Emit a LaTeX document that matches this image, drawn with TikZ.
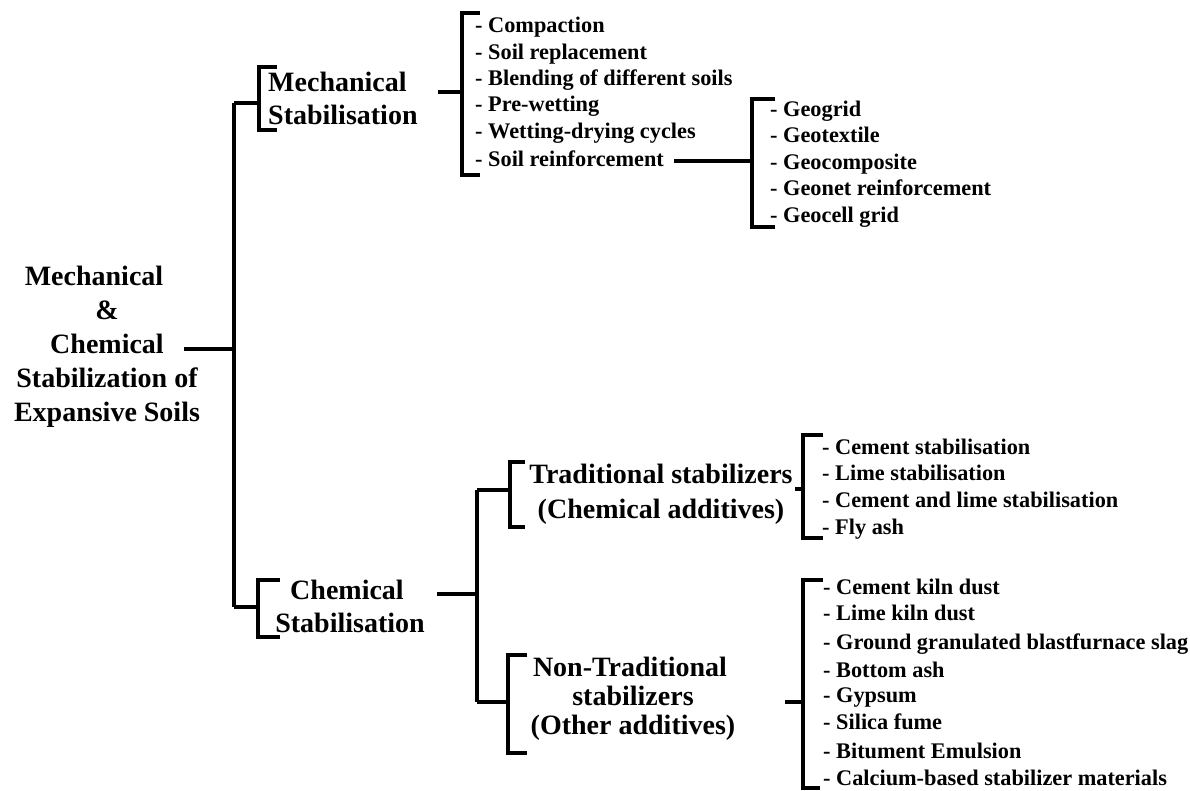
\documentclass[tikz,border=0pt]{standalone}
\usepackage{fontspec}
\setmainfont{Liberation Serif}
\usetikzlibrary{positioning}

\tikzset{
  head/.style={align=center, inner sep=0pt, font=\bfseries\fontsize{28}{33}\selectfont},
  item/.style={anchor=base west, inner sep=0pt, font=\bfseries\fontsize{22.3}{26}\selectfont},
  bar/.style={line width=3.5pt, black},
}

\begin{document}
\begin{tikzpicture}[x=1pt, y=-1pt]
			\useasboundingbox (0,0) rectangle (1190,790);
			% Root
			\node[head, font=\bfseries\fontsize{28}{34}\selectfont] (root) at (107,347) {Mechanical\hspace*{26pt}\\\&\hspace*{10pt}\\Chemical\hspace*{24pt}\\Stabilization of\\Expansive Soils};
			
			% Main branches
			\node[head, align=left, anchor=west] (mech) at (268,98.5) {Mechanical\\Stabilisation};
			\node[head] (chem) at (350,606.5) {Chemical\hspace*{6pt}\\Stabilisation};
			\node[head, font=\bfseries\fontsize{28}{35}\selectfont] (trad) at (661,494.5) {Traditional stabilizers\\(Chemical additives)};
			\node[head, font=\bfseries\fontsize{28}{29}\selectfont] (nontrad) at (633,699) {Non-Traditional\hspace*{6pt}\\stabilizers\\(Other additives)};
			
			% Mechanical items
			\node[item] (m1) at (475,32) {- Compaction};
			\node[item] (m2) at (475,59) {- Soil replacement};
			\node[item] (m3) at (475,85) {- Blending of different soils};
			\node[item] (m4) at (475,111) {- Pre-wetting};
			\node[item] (m5) at (475,138) {- Wetting-drying cycles};
			\node[item] (m6) at (475,166) {- Soil reinforcement};
			
			% Reinforcement items
			\node[item] (g1) at (770,116) {- Geogrid};
			\node[item] (g2) at (770,142) {- Geotextile};
			\node[item] (g3) at (770,169) {- Geocomposite};
			\node[item] (g4) at (770,195) {- Geonet reinforcement};
			\node[item] (g5) at (770,222) {- Geocell grid};
			
			% Traditional items
			\node[item] (t1) at (822,454) {- Cement stabilisation};
			\node[item] (t2) at (822,480) {- Lime stabilisation};
			\node[item] (t3) at (822,507) {- Cement and lime stabilisation};
			\node[item] (t4) at (822,534) {- Fly ash};
			
			% Non-traditional items
			\node[item] (n1) at (823,594) {- Cement kiln dust};
			\node[item] (n2) at (823,620) {- Lime kiln dust};
			\node[item] (n3) at (823,649) {- Ground granulated blastfurnace slag};
			\node[item] (n4) at (823,677) {- Bottom ash};
			\node[item] (n5) at (823,702) {- Gypsum};
			\node[item] (n6) at (823,729) {- Silica fume};
			\node[item] (n7) at (823,758) {- Bitument Emulsion};
			\node[item] (n8) at (823,785) {- Calcium-based stabilizer materials};
			
			% Junctions
			\coordinate (rootR) at (184,349);
			\coordinate (rootJ) at (234,349);
			\coordinate (mechJ) at (234,103);
			\coordinate (chemJ) at (234,607);
			\coordinate (mechR) at (438,92);
			\coordinate (mlistJ) at (462,92);
			\coordinate (glistJ) at (752,161);
			\coordinate (chemR) at (437,594);
			\coordinate (chemK) at (477,594);
			\coordinate (tradJ) at (477,490);
			\coordinate (nontradJ) at (477,702);
			\coordinate (tradR) at (795,489);
			\coordinate (tlistJ) at (803,489);
			\coordinate (nontradR) at (785,702);
			\coordinate (nlistJ) at (803,702);
			
			% Brackets
			\draw[bar] (277,67) -- (259,67) -- (259,130) -- (277,130);
			\draw[bar] (480,13) -- (462,13) -- (462,175) -- (480,175);
			\draw[bar] (775,99) -- (752,99) -- (752,227) -- (775,227);
			\draw[bar] (280,580) -- (258,580) -- (258,637) -- (280,637);
			\draw[bar] (525,462) -- (510,462) -- (510,527) -- (525,527);
			\draw[bar] (823,435) -- (803,435) -- (803,538) -- (823,538);
			\draw[bar] (527,655) -- (508,655) -- (508,753) -- (527,753);
			\draw[bar] (823,580) -- (803,580) -- (803,788) -- (820,788);
			
			% Connectors
			\draw[bar] (rootR) -- (rootJ);
			\draw[bar] (mechJ) -- (chemJ);
			\draw[bar] (mechJ) -- (259,103);
			\draw[bar] (chemJ) -- (258,607);
			\draw[bar] (mechR) -- (mlistJ);
			\draw[bar] ([xshift=10pt,yshift=5pt]m6.base east) -- (glistJ);
			\draw[bar] (chemR) -- (chemK);
			\draw[bar] (tradJ) -- (nontradJ);
			\draw[bar] (tradJ) -- (510,490);
			\draw[bar] (nontradJ) -- (508,702);
			\draw[bar] (tradR) -- (tlistJ);
			\draw[bar] (nontradR) -- (nlistJ);
		\end{tikzpicture}
\end{document}
